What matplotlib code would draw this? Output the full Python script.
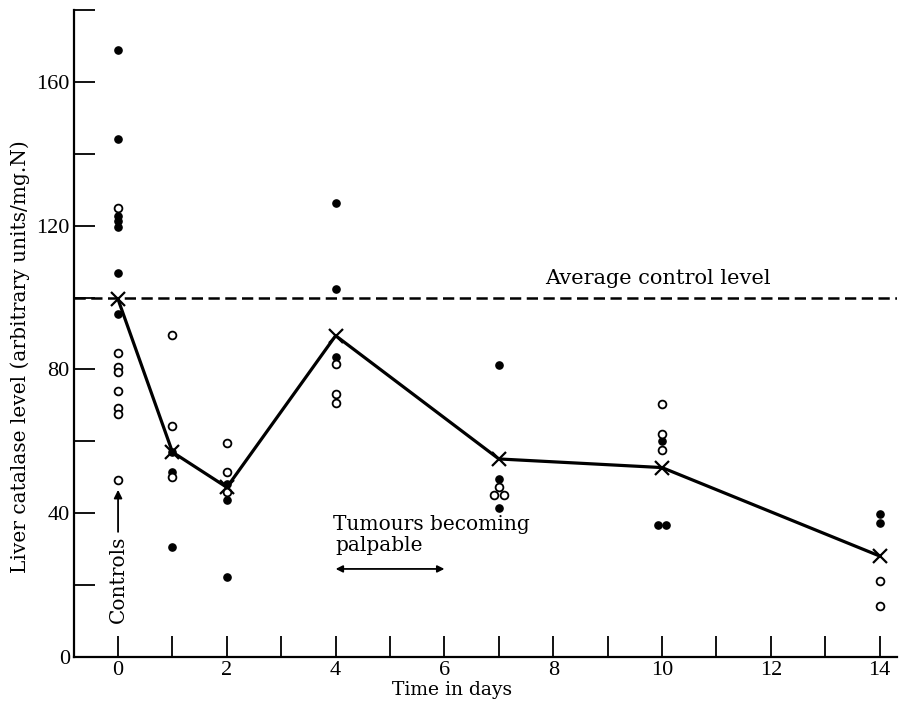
import matplotlib
matplotlib.use("Agg")
import matplotlib.pyplot as plt

# individual animals, solid dots
filled_days = [0, 0, 0, 0, 0, 0, 0,
               1, 1, 1,
               2, 2, 2,
               4, 4, 4,
               7, 7, 7,
               10, 9.92, 10.08,
               14, 14]
filled_vals = [169, 144, 122.8, 121.4, 119.5, 106.7, 95.5,
               57, 51.6, 30.5,
               48.1, 43.6, 22.3,
               126.3, 102.4, 83.4,
               81.1, 49.5, 41.4,
               60, 36.7, 36.7,
               39.7, 37.4]

# individual animals, open circles
open_days = [0, 0, 0, 0, 0, 0, 0, 0,
             1, 1, 1,
             2, 2, 2,
             4, 4, 4,
             7, 6.91, 7.09,
             10, 10, 10,
             14, 14]
open_vals = [125, 84.5, 80.6, 79.2, 74.1, 69.4, 67.7, 49.3,
             89.5, 64.3, 50.0,
             59.4, 51.4, 46.0,
             81.5, 73.2, 70.8,
             47.4, 45.1, 45.1,
             70.4, 62.0, 57.7,
             21.2, 14.2]

# group means (crosses joined by the line)
mean_days = [0, 1, 2, 4, 7, 10, 14]
mean_vals = [99.5, 57, 47.2, 89.4, 55.1, 52.7, 28.1]

control_level = 100

xticks = list(range(0, 15))
xtick_labels = [str(d) if d % 2 == 0 else "" for d in xticks]
yticks = list(range(0, 181, 20))
ytick_labels = [str(v) if v % 40 == 0 else "" for v in yticks]

SERIF = "DejaVu Serif"
NUMS = "Liberation Serif"

fig = plt.figure(figsize=(9.13, 7.06), dpi=100)
ax = fig.add_axes([74 / 913, 49 / 706, 823 / 913, 647 / 706])

ax.plot(mean_days, mean_vals, color="black", lw=2.3, zorder=2)
ax.plot(mean_days, mean_vals, ls="none", marker="x", ms=10, mew=1.6,
        color="black", zorder=4)
ax.plot(filled_days, filled_vals, ls="none", marker="o", ms=5.2,
        color="black", zorder=3)
ax.plot(open_days, open_vals, ls="none", marker="o", ms=5.6,
        mfc="white", mec="black", mew=1.3, zorder=3)

# average control level
ax.axhline(control_level, color="black", lw=1.8, ls=(0, (4.5, 2.2)), zorder=1)
ax.text(7.85, control_level + 2.6, "Average control level",
        family=SERIF, fontsize=15, ha="left", va="bottom")

# annotations
ax.annotate("Controls", xy=(0, 46.5), xytext=(0, 21.5),
            rotation=90, ha="center", va="center", family=SERIF, fontsize=14.5,
            arrowprops=dict(arrowstyle="-|>", color="black", lw=1.3,
                            shrinkA=1, shrinkB=0, mutation_scale=12))
ax.text(3.95, 37, "Tumours becoming", family=SERIF, fontsize=14.5,
        ha="left", va="center")
ax.text(4.0, 31, "palpable", family=SERIF, fontsize=14.5,
        ha="left", va="center")
ax.annotate("", xy=(4.0, 24.5), xytext=(6.0, 24.5),
            arrowprops=dict(arrowstyle="<|-|>", color="black", lw=1.3,
                            shrinkA=0, shrinkB=0, mutation_scale=10))

# axes styling
ax.set_xlim(-0.81, 14.32)
ax.set_ylim(0, 180)
for side in ["top", "right"]:
    ax.spines[side].set_visible(False)
for side in ["left", "bottom"]:
    ax.spines[side].set_linewidth(1.6)

ax.set_xticks(xticks)
ax.set_xticklabels(xtick_labels, family=NUMS, fontsize=16)
ax.set_yticks(yticks)
ax.set_yticklabels(ytick_labels, family=NUMS, fontsize=16)
ax.tick_params(direction="in", length=15, width=1.3, pad=3)

ax.set_ylabel("Liver catalase level (arbitrary units/mg.N)",
              family=SERIF, fontsize=14.5)
ax.yaxis.set_label_coords(-0.053, 0.465)
fig.text(452 / 913, 1 - 690 / 706, "Time in days", family=SERIF,
         fontsize=13.5, ha="center", va="center")

fig.savefig("out.png", dpi=100)
